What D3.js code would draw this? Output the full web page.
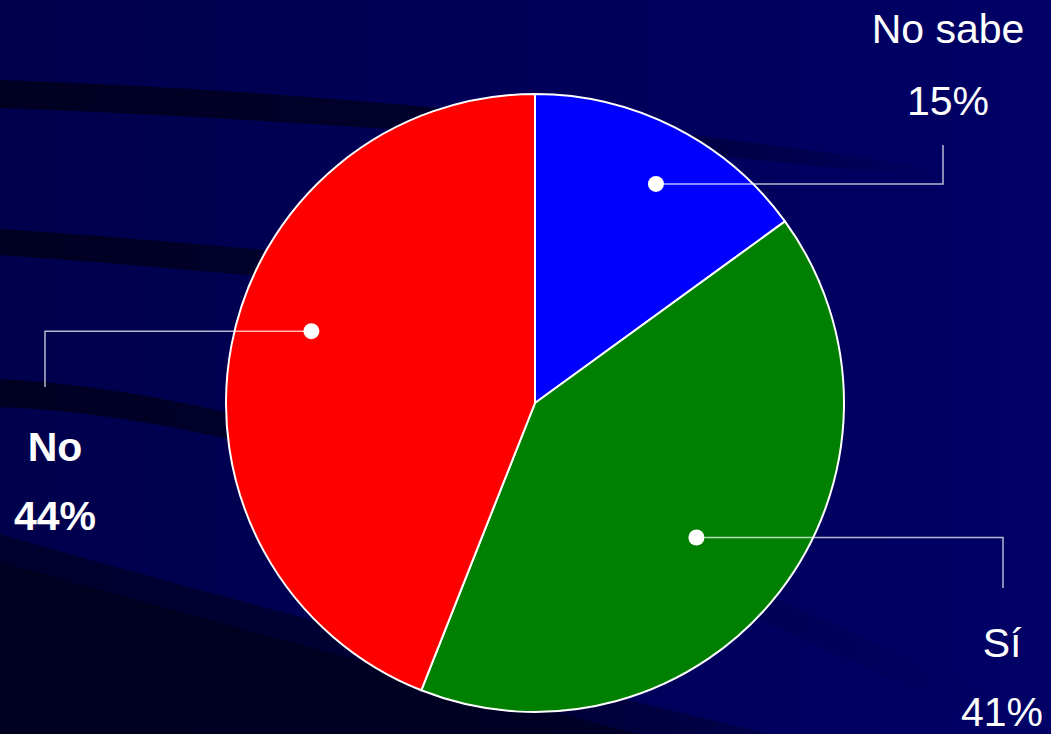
<!DOCTYPE html>
<html>
<head>
<meta charset="utf-8">
<script src="https://cdn.jsdelivr.net/npm/d3@7"></script>
<style>
  html, body { margin: 0; padding: 0; background: #000050; }
  svg { display: block; }
</style>
</head>
<body>
<svg id="chart" width="1051" height="734"></svg>
<script>
// ---- data ----
const categories = ["No sabe", "Sí", "No"];
const values = [15, 41, 44];
const percentLabels = ["15%", "41%", "44%"];
const sliceColors = ["#0000ff", "#008000", "#ff0000"];

// ---- layout (positions / styles) ----
const W = 1051, H = 734;
const cx = 535, cy = 403, R = 309;
const dotFactor = [0.81, 0.68, 0.76];
const dotAngleShiftDeg = [1.9, 2.0, 7.0];
const elbowX = [943, 1003, 45];
const elbowEndY = [145, 588, 387];
const labelX = [948, 1002, 55];
const labelY1 = [43, 657, 461];
const labelY2 = [115, 726, 530];
const labelWeight = ["normal", "normal", "bold"];

const svg = d3.select("#chart");
const defs = svg.append("defs");

// background gradient
const bg = defs.append("linearGradient").attr("id", "bg").attr("x1", 0).attr("x2", 1).attr("y1", 0).attr("y2", 0);
bg.append("stop").attr("offset", 0).attr("stop-color", "#00004c");
bg.append("stop").attr("offset", 1).attr("stop-color", "#000066");
svg.append("rect").attr("width", W).attr("height", H).attr("fill", "url(#bg)");

function fadeGrad(id, x2, color, stops) {
  const g = defs.append("linearGradient").attr("id", id)
    .attr("gradientUnits", "userSpaceOnUse")
    .attr("x1", 0).attr("y1", 0).attr("x2", x2).attr("y2", 0);
  stops.forEach(s => g.append("stop").attr("offset", s[0])
    .attr("stop-color", color).attr("stop-opacity", s[1]));
}
fadeGrad("f1", 950, "#000022", [[0, 1], [0.5, 0.8], [0.8, 0.35], [1, 0]]);
fadeGrad("f2", 800, "#000022", [[0, 1], [0.4, 0.8], [0.75, 0.2], [1, 0]]);
fadeGrad("f3", 1000, "#000022", [[0, 1], [0.35, 0.75], [0.7, 0.2], [1, 0]]);
fadeGrad("f4", 1051, "#00002e", [[0, 1], [0.5, 0.8], [1, 0]]);
fadeGrad("f5", 1051, "#000020", [[0, 1], [0.5, 0.8], [1, 0]]);

const bands = [
  {d: "M0,80 Q450,95 950,170 L950,180 Q450,125 0,108 Z", f: "f1"},
  {d: "M0,229 Q400,255 950,330 L950,355 Q400,283 0,255 Z", f: "f2"},
  {d: "M0,379 Q350,395 1000,700 L1000,730 Q350,419 0,407 Z", f: "f3"},
  {d: "M0,534 Q400,650 1051,800 L0,800 Z", f: "f4"},
  {d: "M0,562 Q420,680 1051,840 L0,840 Z", f: "f5"}
];
svg.append("g").selectAll("path").data(bands).join("path")
  .attr("d", d => d.d).attr("fill", d => "url(#" + d.f + ")");

// ---- pie ----
const pie = d3.pie().value(d => d).sort(null);
const arcs = pie(values);
const arc = d3.arc().innerRadius(0).outerRadius(R);

const g = svg.append("g").attr("transform", `translate(${cx},${cy})`);
g.selectAll("path.slice").data(arcs).join("path")
  .attr("class", "slice")
  .attr("d", arc)
  .attr("fill", (d, i) => sliceColors[i])
  .attr("stroke", "#ffffff")
  .attr("stroke-width", 2)
  .attr("stroke-linejoin", "round");

// dots and leaders
const dots = arcs.map((a, i) => {
  const ang = (a.startAngle + a.endAngle) / 2 + dotAngleShiftDeg[i] * Math.PI / 180;
  const r = R * dotFactor[i];
  return [cx + r * Math.sin(ang), cy - r * Math.cos(ang)];
});

const lead = svg.append("g");
dots.forEach((p, i) => {
  lead.append("path")
    .attr("d", `M${p[0]},${p[1]} H${elbowX[i]} V${elbowEndY[i]}`)
    .attr("fill", "none")
    .attr("stroke", "#ffffff")
    .attr("stroke-opacity", 0.72)
    .attr("stroke-width", 1.5);
});
lead.selectAll("circle").data(dots).join("circle")
  .attr("cx", d => d[0]).attr("cy", d => d[1]).attr("r", 8)
  .attr("fill", "#ffffff");

// labels
const lab = svg.append("g")
  .attr("font-family", "'Liberation Sans', Arial, sans-serif")
  .attr("font-size", 41)
  .attr("fill", "#ffffff")
  .attr("text-anchor", "middle");
categories.forEach((c, i) => {
  lab.append("text").attr("x", labelX[i]).attr("y", labelY1[i])
    .attr("font-weight", labelWeight[i]).text(c);
  lab.append("text").attr("x", labelX[i]).attr("y", labelY2[i])
    .attr("font-weight", labelWeight[i]).text(percentLabels[i]);
});
</script>
</body>
</html>
